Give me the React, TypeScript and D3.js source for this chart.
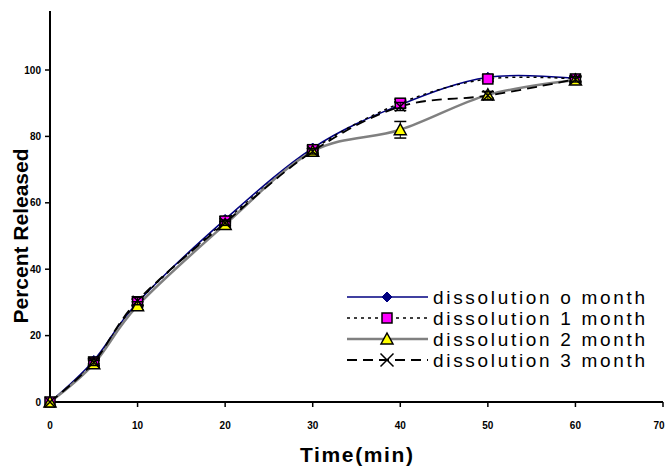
import React from 'react'
import * as d3 from 'd3'

const times = [0, 5, 10, 20, 30, 40, 50, 60]
const month0 = [0, 12.5, 30, 55, 76.5, 89.5, 97.8, 97.5]
const month1 = [0, 12, 30, 54.5, 76, 90, 97.3, 97.3]
const month2 = [0, 11.5, 29, 53.5, 75.5, 82, 92.5, 97]
const month3 = [0, 12, 30.5, 54, 75.5, 89, 92.3, 97.2]
const errors0 = [0, 1, 1, 0.8, 0.8, 1, 0.8, 0.8]
const errors1 = [0, 1, 1, 0.8, 0.8, 1.2, 0.8, 0.8]
const errors2 = [0, 1, 1.2, 0.8, 0.8, 2.5, 1, 0.8]
const errors3 = [0, 1, 1.2, 0.8, 0.8, 1.2, 1.2, 0.8]
const seriesNames = ['dissolution o month', 'dissolution 1 month', 'dissolution 2 month', 'dissolution 3 month']
const xTicks = [0, 10, 20, 30, 40, 50, 60, 70]
const yTicks = [0, 20, 40, 60, 80, 100]

const W = 667
const H = 471

export default function App () {
  const x = d3.scaleLinear().domain([0, 70]).range([50, 663])
  const y = d3.scaleLinear().domain([0, 100]).range([402, 70])
  const yTop = 11

  const line = d3.line<number>()
    .x((d, i) => x(times[i]))
    .y(d => y(d))
    .curve(d3.curveCardinal.tension(0))

  const series = [
    { name: seriesNames[0], values: month0, err: errors0, stroke: '#000080', width: 1.5, dash: '', marker: 'diamond' },
    { name: seriesNames[1], values: month1, err: errors1, stroke: '#000', width: 1.5, dash: '3,4', marker: 'square' },
    { name: seriesNames[2], values: month2, err: errors2, stroke: '#808080', width: 2.5, dash: '', marker: 'triangle' },
    { name: seriesNames[3], values: month3, err: errors3, stroke: '#000', width: 1.8, dash: '10,6', marker: 'x' }
  ]

  const marker = (type: string, cx: number, cy: number, key: string, s = 1) => {
    if (type === 'diamond') {
      return <path key={key} d={`M${cx},${cy - 5 * s}L${cx + 5 * s},${cy}L${cx},${cy + 5 * s}L${cx - 5 * s},${cy}Z`} fill='#000080' stroke='#000080' strokeWidth={1} />
    }
    if (type === 'square') {
      return <rect key={key} x={cx - 5 * s} y={cy - 5 * s} width={10 * s} height={10 * s} fill='#ff00ff' stroke='#000' strokeWidth={1.5} />
    }
    if (type === 'triangle') {
      return <path key={key} d={`M${cx},${cy - 6 * s}L${cx + 6 * s},${cy + 5 * s}L${cx - 6 * s},${cy + 5 * s}Z`} fill='#ffff00' stroke='#000' strokeWidth={1.5} />
    }
    return <path key={key} d={`M${cx - 5 * s},${cy - 5 * s}L${cx + 5 * s},${cy + 5 * s}M${cx + 5 * s},${cy - 5 * s}L${cx - 5 * s},${cy + 5 * s}`} stroke='#000' strokeWidth={1.5} />
  }

  const font = 'Arial, "Liberation Sans", sans-serif'
  const bold = { fontFamily: font, fontWeight: 'bold' as const }

  return (
    <svg width={W} height={H} style={{ position: 'absolute', left: 0, top: 0, background: '#fff' }}>
      {/* axes */}
      <line x1={50} x2={50} y1={yTop} y2={402} stroke='#000' strokeWidth={2} />
      <line x1={50} x2={663} y1={402} y2={402} stroke='#000' strokeWidth={2} />
      {yTicks.map(t => (
        <g key={'y' + t}>
          <line x1={45} x2={50} y1={y(t)} y2={y(t)} stroke='#000' strokeWidth={1.5} />
          <text x={41} y={y(t)} dy='0.35em' textAnchor='end' fontSize={10} {...bold}>{t}</text>
        </g>
      ))}
      {xTicks.map(t => (
        <g key={'x' + t}>
          <line x1={x(t)} x2={x(t)} y1={402} y2={407} stroke='#000' strokeWidth={1.5} />
          <text x={Math.min(x(t), 659)} y={429} textAnchor='middle' fontSize={10} {...bold}>{t}</text>
        </g>
      ))}
      <text transform='translate(28,236) rotate(-90)' textAnchor='middle' fontSize={21} {...bold}>Percent Released</text>
      <text x={300} y={462} fontSize={21} textLength={113} lengthAdjust='spacing' {...bold}>Time(min)</text>

      {/* lines */}
      {series.map(s => (
        <path key={s.name} d={line(s.values) || ''} fill='none' stroke={s.stroke} strokeWidth={s.width} strokeDasharray={s.dash} />
      ))}
      {/* error bars and markers */}
      {series.map(s => (
        <g key={s.name + 'm'}>
          {s.values.map((v, i) => s.err[i] > 0 && (
            <g key={i}>
              <line x1={x(times[i])} x2={x(times[i])} y1={y(v - s.err[i])} y2={y(v + s.err[i])} stroke='#000' strokeWidth={1} />
              <line x1={x(times[i]) - 6} x2={x(times[i]) + 6} y1={y(v + s.err[i])} y2={y(v + s.err[i])} stroke='#000' strokeWidth={1.5} />
              <line x1={x(times[i]) - 6} x2={x(times[i]) + 6} y1={y(v - s.err[i])} y2={y(v - s.err[i])} stroke='#000' strokeWidth={1.5} />
            </g>
          ))}
          {s.values.map((v, i) => marker(s.marker, x(times[i]), y(v), s.name + i))}
        </g>
      ))}

      {/* legend */}
      {series.map((s, i) => {
        const ly = 297 + i * 21
        return (
          <g key={s.name + 'l'}>
            <line x1={347} x2={428} y1={ly} y2={ly} stroke={s.stroke} strokeWidth={s.width} strokeDasharray={s.dash} />
            {marker(s.marker, 387, ly, s.name + 'lm', s.marker === 'x' ? 1.3 : 1)}
            <text x={433} y={ly} dy='0.35em' fontSize={19} textLength={212} lengthAdjust='spacing' fontFamily={font}>{s.name}</text>
          </g>
        )
      })}
    </svg>
  )
}
